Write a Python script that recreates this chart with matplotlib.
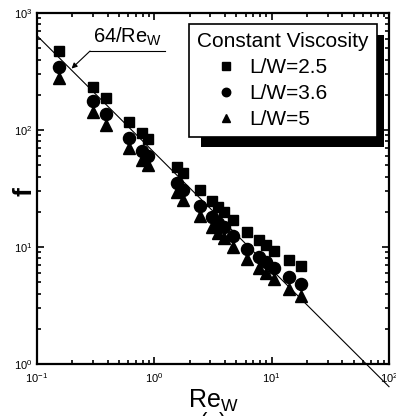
import matplotlib
matplotlib.use("Agg")
import matplotlib.pyplot as plt
import numpy as np
from matplotlib.patches import Rectangle
from matplotlib.ticker import LogLocator, FuncFormatter, NullFormatter

plt.rcParams['font.family'] = ['Liberation Sans', 'DejaVu Sans']
plt.rcParams['mathtext.fontset'] = 'custom'
plt.rcParams['mathtext.rm'] = 'Liberation Sans'
plt.rcParams['mathtext.it'] = 'Liberation Sans:italic'

re_w = [0.154, 0.300, 0.387, 0.608, 0.785, 0.883, 1.56, 1.76, 2.45, 3.10, 3.51,
        3.89, 4.66, 6.21, 7.81, 8.91, 10.5, 14.1, 17.7]
f_25 = [473, 233, 188, 117, 94, 83, 48, 42.7, 30.7, 24.9, 21.8, 20.0, 17.0,
        13.5, 11.5, 10.4, 9.2, 7.7, 6.9]
f_36 = [345, 177, 137, 85.5, 66.8, 60.5, 35.0, 30.7, 22.4, 18.1, 15.9, 14.7,
        12.4, 9.67, 8.26, 7.49, 6.57, 5.51, 4.80]
f_5 = [278, 143, 110, 70, 55.4, 50.2, 29.7, 25.2, 18.4, 14.9, 13.2, 12.0,
       9.94, 7.85, 6.65, 5.96, 5.30, 4.35, 3.81]
labels = ['L/W=2.5', 'L/W=3.6', 'L/W=5']
legend_title = 'Constant Viscosity'
re_line = np.array([0.1, 100.0])

fig = plt.figure(figsize=(3.96, 4.16), dpi=100)
ax = fig.add_axes([37/396, 52/416, 352/396, 351/416])

ax.plot(re_line, 64/re_line, color='black', lw=0.8, clip_on=False, zorder=2)
h1, = ax.plot(re_w, f_25, 's', color='black', ms=7.4, ls='none', label=labels[0], zorder=3)
h2, = ax.plot(re_w, f_36, 'o', color='black', ms=8.7, ls='none', label=labels[1], zorder=3)
h3, = ax.plot(re_w, f_5, '^', color='black', ms=9.2, ls='none', label=labels[2], zorder=3)

ax.set_xscale('log')
ax.set_yscale('log')
ax.set_xlim(0.1, 100)
ax.set_ylim(1, 1000)

def fmt(v, pos):
    e = int(round(np.log10(v)))
    return r'$10^{%d}$' % e

for axis in (ax.xaxis, ax.yaxis):
    axis.set_major_locator(LogLocator(base=10, numticks=10))
    axis.set_minor_locator(LogLocator(base=10, subs=np.arange(2, 10), numticks=10))
    axis.set_major_formatter(FuncFormatter(fmt))
    axis.set_minor_formatter(NullFormatter())

ax.tick_params(which='both', direction='in', top=True, right=True, width=1.2, labelsize=8)
ax.tick_params(which='major', length=5)
ax.tick_params(which='minor', length=3)
ax.tick_params(axis='x', pad=5)
ax.tick_params(axis='y', pad=3)
for s in ax.spines.values():
    s.set_linewidth(1.6)

ax.set_xlabel(r'Re$_\mathrm{W}$', fontsize=18, labelpad=2)
ax.set_ylabel('f', fontsize=19, fontweight='bold')
ax.yaxis.set_label_coords(0.0, 0.49)

# 64/Re annotation
ax.text(0.298, 560, r'64/Re$_\mathrm{W}$', fontsize=14.5, ha='left', va='baseline')
ax.plot([1.233, 0.283], [473, 473], color='black', lw=0.8)
ax.annotate('', xy=(0.197, 335), xytext=(0.283, 473),
            arrowprops=dict(arrowstyle='-|>', color='black', lw=0.8,
                            mutation_scale=8, shrinkA=0, shrinkB=0))

# legend with shadow
shadow = Rectangle((0.465, 0.619), 0.521, 0.318, transform=ax.transAxes,
                   facecolor='black', edgecolor='none', zorder=4)
ax.add_patch(shadow)
leg = ax.legend(handles=[h1, h2, h3], title=legend_title, loc='upper right',
                bbox_to_anchor=(0.965, 0.969), borderaxespad=0, fontsize=15,
                title_fontsize=15, frameon=True, fancybox=False,
                edgecolor='black', framealpha=1, markerscale=0.7,
                handlelength=2.8, handletextpad=-0.27, labelspacing=0.33,
                borderpad=0.4, alignment='left')
leg.get_frame().set_linewidth(1.2)
leg.set_zorder(5)

fig.text(213/396, 4/416, '(a)', fontsize=16, ha='center', va='top')

fig.savefig('out.png', dpi=100)
